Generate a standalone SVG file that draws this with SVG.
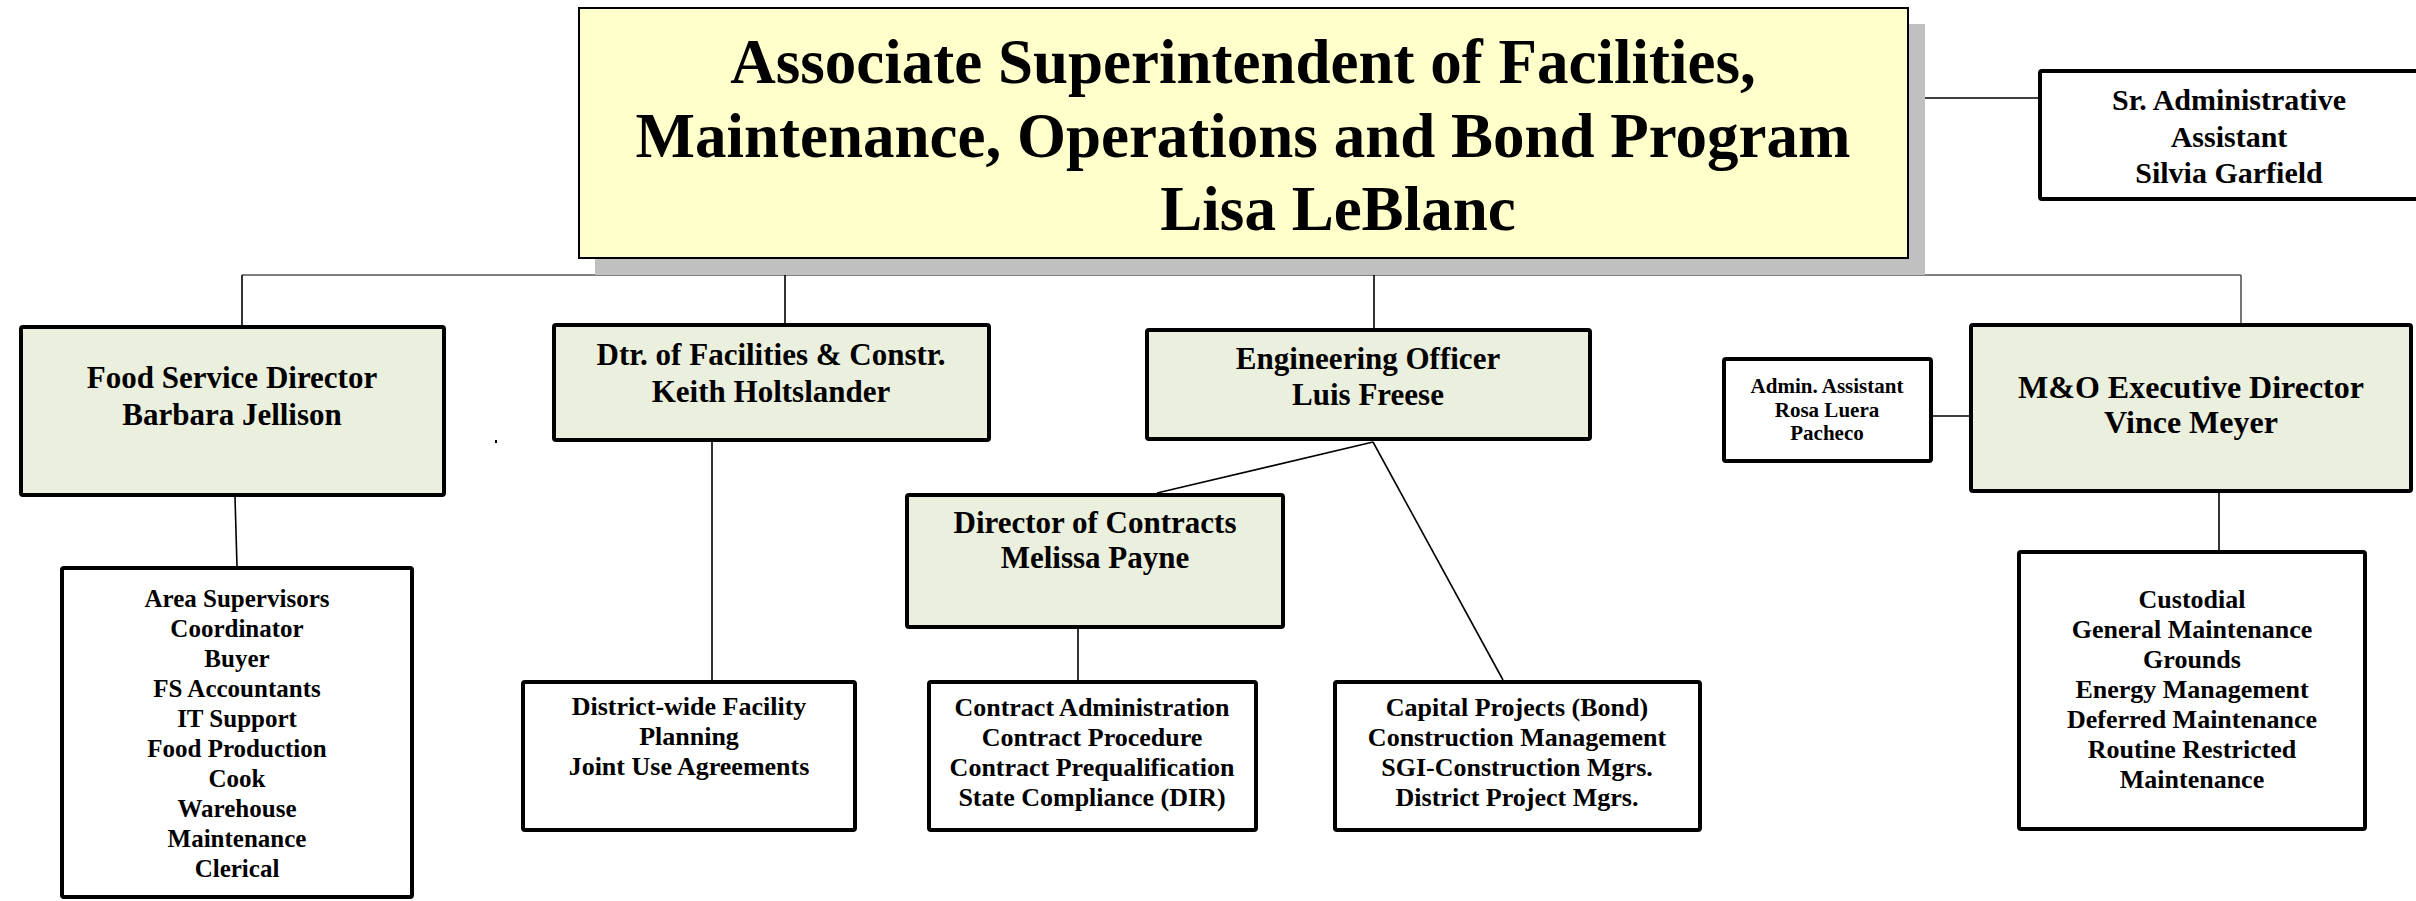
<svg xmlns="http://www.w3.org/2000/svg" width="2416" height="901" viewBox="0 0 2416 901">
<style>
text{font-family:'Liberation Serif','DejaVu Serif','Times New Roman',serif;font-weight:bold;fill:#000;text-anchor:middle}
.head{fill:#ebefdd;stroke:#000;stroke-width:4}
.plain{fill:#fff;stroke:#000;stroke-width:4}
.conn{stroke:#000;stroke-width:1.6;fill:none}
.bus{stroke:#555;stroke-width:1.6;fill:none}
.t63{font-size:63px}
.t31{font-size:31px}
.t32{font-size:32px}
.t30{font-size:30px}
.t26{font-size:26px}
.t25{font-size:25px}
.t21{font-size:21px}
</style>
<rect width="2416" height="901" fill="#fff"/>
<g id="connectors">
<line class="bus" x1="242" y1="275" x2="2241" y2="275"/>
<line class="conn" x1="242" y1="275" x2="242" y2="325"/>
<line class="conn" x1="785" y1="275" x2="785" y2="323"/>
<line class="conn" x1="1374" y1="275" x2="1374" y2="328"/>
<line class="bus" x1="2241" y1="275" x2="2241" y2="323"/>
<line class="conn" x1="1908" y1="98" x2="2038" y2="98"/>
<line class="conn" x1="235" y1="497" x2="237" y2="566"/>
<line class="conn" x1="712" y1="442" x2="712" y2="680"/>
<line class="conn" x1="1373" y1="442" x2="1157" y2="493"/>
<line class="conn" x1="1373" y1="442" x2="1503" y2="680"/>
<line class="conn" x1="1078" y1="629" x2="1078" y2="680"/>
<line class="conn" x1="1933" y1="416" x2="1969" y2="416"/>
<line class="conn" x1="2219" y1="493" x2="2219" y2="550"/>
</g>
<rect x="495" y="440" width="2" height="3" fill="#000"/>
<g font-family="Liberation Serif, DejaVu Serif, serif" font-weight="bold">
<g id="top">
<rect x="595" y="24" width="1330" height="251" fill="#c0c0c0"/>
<rect x="579" y="8" width="1329" height="250" fill="#ffffcc" stroke="#000" stroke-width="2"/>
<text class="t63" x="1243" y="83">Associate Superintendent of Facilities,</text>
<text class="t63" x="1243" y="157">Maintenance, Operations and Bond Program</text>
<text class="t63" x="1338" y="230">Lisa LeBlanc</text>
</g>
<g id="sr-admin">
<rect class="plain" x="2040" y="71" width="400" height="128" rx="2"/>
<text class="t30" x="2229" y="110">Sr. Administrative</text>
<text class="t30" x="2229" y="147">Assistant</text>
<text class="t30" x="2229" y="183">Silvia Garfield</text>
</g>
<g id="food">
<rect class="head" x="21" y="327" width="423" height="168" rx="2"/>
<text class="t31" x="232" y="388">Food Service Director</text>
<text class="t31" x="232" y="425">Barbara Jellison</text>
</g>
<g id="dtr">
<rect class="head" x="554" y="325" width="435" height="115" rx="2"/>
<text class="t31" x="771" y="365">Dtr. of Facilities &amp; Constr.</text>
<text class="t31" x="771" y="402">Keith Holtslander</text>
</g>
<g id="eng">
<rect class="head" x="1147" y="330" width="443" height="109" rx="2"/>
<text class="t31" x="1368" y="369">Engineering Officer</text>
<text class="t31" x="1368" y="405">Luis Freese</text>
</g>
<g id="admin">
<rect class="plain" x="1724" y="359" width="207" height="102" rx="2"/>
<text class="t21" x="1827" y="393">Admin. Assistant</text>
<text class="t21" x="1827" y="417">Rosa Luera</text>
<text class="t21" x="1827" y="440">Pacheco</text>
</g>
<g id="mo">
<rect class="head" x="1971" y="325" width="440" height="166" rx="2"/>
<text class="t32" x="2191" y="398">M&amp;O Executive Director</text>
<text class="t32" x="2191" y="433">Vince Meyer</text>
</g>
<g id="contracts">
<rect class="head" x="907" y="495" width="376" height="132" rx="2"/>
<text class="t31" x="1095" y="533">Director of Contracts</text>
<text class="t31" x="1095" y="568">Melissa Payne</text>
</g>
<g id="food-list">
<rect class="plain" x="62" y="568" width="350" height="329" rx="2"/>
<text class="t25" x="237" y="607">Area Supervisors</text>
<text class="t25" x="237" y="637">Coordinator</text>
<text class="t25" x="237" y="667">Buyer</text>
<text class="t25" x="237" y="697">FS Accountants</text>
<text class="t25" x="237" y="727">IT Support</text>
<text class="t25" x="237" y="757">Food Production</text>
<text class="t25" x="237" y="787">Cook</text>
<text class="t25" x="237" y="817">Warehouse</text>
<text class="t25" x="237" y="847">Maintenance</text>
<text class="t25" x="237" y="877">Clerical</text>
</g>
<g id="planning">
<rect class="plain" x="523" y="682" width="332" height="148" rx="2"/>
<text class="t26" x="689" y="715">District-wide Facility</text>
<text class="t26" x="689" y="745">Planning</text>
<text class="t26" x="689" y="775">Joint Use Agreements</text>
</g>
<g id="contract-list">
<rect class="plain" x="929" y="682" width="327" height="148" rx="2"/>
<text class="t26" x="1092" y="716">Contract Administration</text>
<text class="t26" x="1092" y="746">Contract Procedure</text>
<text class="t26" x="1092" y="776">Contract Prequalification</text>
<text class="t26" x="1092" y="806">State Compliance (DIR)</text>
</g>
<g id="capital-list">
<rect class="plain" x="1335" y="682" width="365" height="148" rx="2"/>
<text class="t26" x="1517" y="716">Capital Projects (Bond)</text>
<text class="t26" x="1517" y="746">Construction Management</text>
<text class="t26" x="1517" y="776">SGI-Construction Mgrs.</text>
<text class="t26" x="1517" y="806">District Project Mgrs.</text>
</g>
<g id="mo-list">
<rect class="plain" x="2019" y="552" width="346" height="277" rx="2"/>
<text class="t26" x="2192" y="608">Custodial</text>
<text class="t26" x="2192" y="638">General Maintenance</text>
<text class="t26" x="2192" y="668">Grounds</text>
<text class="t26" x="2192" y="698">Energy Management</text>
<text class="t26" x="2192" y="728">Deferred Maintenance</text>
<text class="t26" x="2192" y="758">Routine Restricted</text>
<text class="t26" x="2192" y="788">Maintenance</text>
</g>
</g>
</svg>
